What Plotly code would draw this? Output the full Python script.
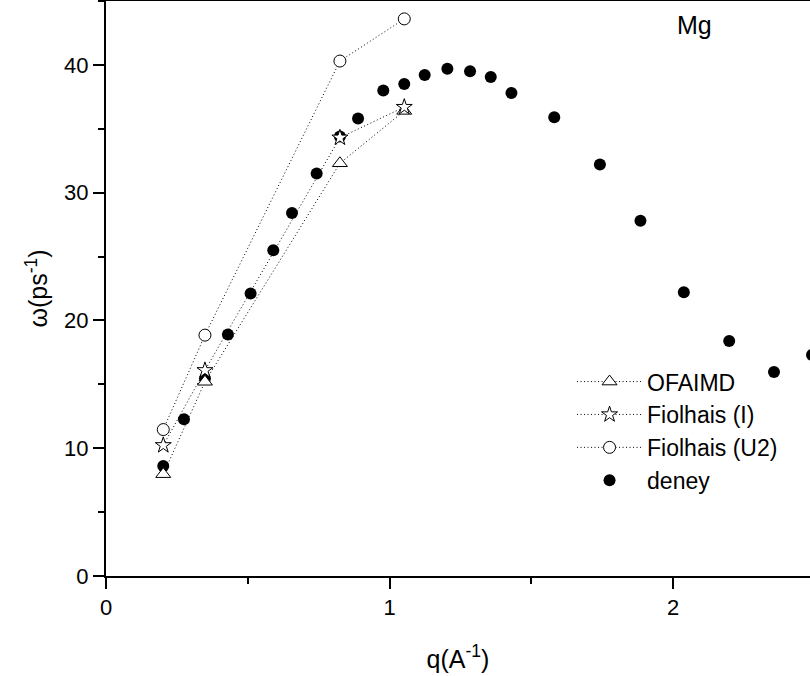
import plotly.graph_objects as go

# Calculated dispersion (three models)
q_calc = [0.202, 0.349, 0.825, 1.052]
w_ofaimd = [7.97, 15.2, 32.3, 36.4]
w_fiol_i = [10.23, 16.1, 34.3, 36.7]
w_fiol_u2 = [11.46, 18.85, 40.3, 43.6]

# Experimental ("deney")
q_exp = [0.202, 0.275, 0.349, 0.430, 0.510, 0.590, 0.656, 0.743, 0.825, 0.889,
         0.978, 1.052, 1.124, 1.204, 1.284, 1.357, 1.430, 1.581, 1.742, 1.885,
         2.038, 2.198, 2.356, 2.49]
w_exp = [8.6, 12.27, 15.45, 18.9, 22.1, 25.5, 28.4, 31.5, 34.4, 35.8,
         38.0, 38.5, 39.2, 39.7, 39.5, 39.06, 37.8, 35.9, 32.2, 27.8,
         22.2, 18.4, 15.96, 17.3]

x_tickvals = [0, 1, 2]
y_tickvals = [0, 10, 20, 30, 40]

FONT = "Liberation Sans, Arial, sans-serif"
dotline = dict(color="black", width=1, dash="1px,2.5px")

fig = go.Figure()
fig.add_trace(go.Scatter(x=q_exp, y=w_exp, mode="markers", name="deney",
                         marker=dict(symbol="circle", size=12, color="black"),
                         legendrank=4))
fig.add_trace(go.Scatter(x=q_calc, y=w_ofaimd, mode="lines+markers", name="OFAIMD",
                         line=dotline,
                         marker=dict(symbol="triangle-up", size=13, color="white",
                                     line=dict(color="black", width=1)),
                         legendrank=1))
fig.add_trace(go.Scatter(x=q_calc, y=w_fiol_i, mode="lines+markers", name="Fiolhais (I)",
                         line=dotline,
                         marker=dict(symbol="star", size=12, color="white",
                                     line=dict(color="black", width=1)),
                         legendrank=2))
fig.add_trace(go.Scatter(x=q_calc, y=w_fiol_u2, mode="lines+markers", name="Fiolhais (U2)",
                         line=dotline,
                         marker=dict(symbol="circle", size=12, color="white",
                                     line=dict(color="black", width=1)),
                         legendrank=3))

axis_common = dict(showgrid=False, zeroline=False, showline=True, linecolor="black",
                   linewidth=2, ticks="outside", ticklen=11, tickwidth=2,
                   tickcolor="black", tickfont=dict(family=FONT, size=22, color="black"))

fig.update_xaxes(range=[0, 2.483], tickvals=x_tickvals, mirror=True,
                 minor=dict(dtick=0.5, tick0=0, ticks="outside", ticklen=6,
                            tickwidth=2, tickcolor="black"),
                 title=dict(text="q(A<sup>-1</sup>)", font=dict(family=FONT, size=25, color="black"),
                            standoff=31),
                 **axis_common)
fig.update_yaxes(range=[0, 45], tickvals=y_tickvals,
                 minor=dict(dtick=5, tick0=0, ticks="outside", ticklen=6,
                            tickwidth=2, tickcolor="black"),
                 title=dict(text="ω(ps<sup>-1</sup>)", font=dict(family=FONT, size=25, color="black"),
                            standoff=9),
                 **axis_common)

fig.add_annotation(text="Mg", x=0.836, y=0.958, xref="paper", yref="paper",
                   xanchor="center", yanchor="middle",
                   showarrow=False, font=dict(family=FONT, size=25, color="black"))

fig.update_layout(
    width=810, height=676,
    margin=dict(l=106, r=0, t=1, b=100),
    paper_bgcolor="white", plot_bgcolor="white",
    font=dict(family=FONT, color="black"),
    legend=dict(x=0.662, xanchor="left", y=0.252, yanchor="middle",
                font=dict(family=FONT, size=23, color="black"),
                bgcolor="rgba(0,0,0,0)", borderwidth=0, itemwidth=65,
                tracegroupgap=0),
)

fig.write_html("out.html")
